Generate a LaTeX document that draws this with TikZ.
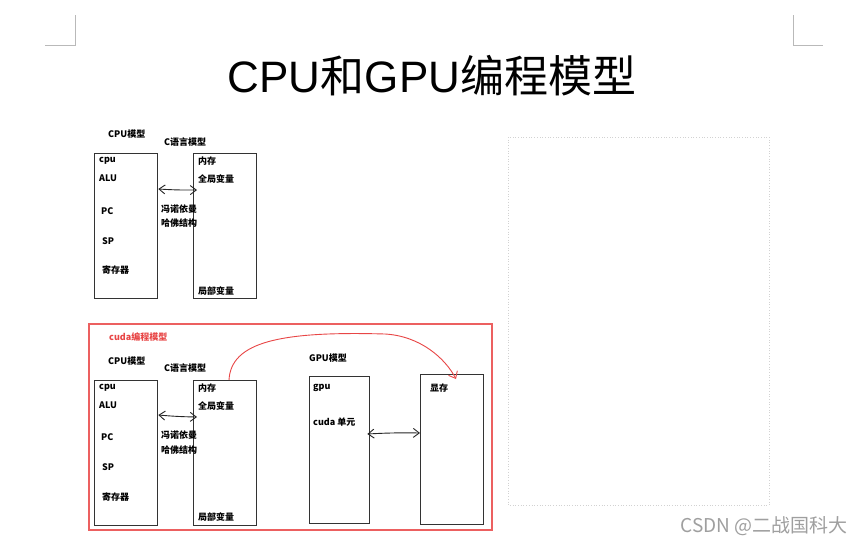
\documentclass[tikz,border=0pt]{standalone}
\usepackage{fontspec}
\setmainfont{Liberation Sans}
\newfontfamily\cjk{Noto Sans CJK SC}
\usetikzlibrary{arrows.meta}
\definecolor{inkred}{RGB}{232,70,70}
\definecolor{boxred}{RGB}{236,96,96}
\begin{document}
\begin{tikzpicture}[x=1pt,y=-1pt,
  box/.style={draw=black!80, line width=1.3pt, minimum width=63pt, minimum height=145pt, anchor=north west, inner sep=0pt},
  lbl/.style={anchor=west, inner sep=0pt, font=\cjk\bfseries\fontsize{9}{10}\selectfont},
  dbl/.style={{Straight Barb[length=6pt,width=9pt]}-{Straight Barb[length=6pt,width=9pt]}, line width=0.9pt, black!85},
  redc/.style={-{Straight Barb[length=6pt,width=10pt]}, line width=0.9pt, inkred},
  cornermark/.style={draw=gray!55, line width=0.7pt},
]
\fill[white] (0,0) rectangle (864,546);
\useasboundingbox (0,0) rectangle (864,546);

% page corner marks
\draw[cornermark] (45,45) -- (75,45) -- (75,15);
\draw[cornermark] (793,15) -- (793,45) -- (823,45);

% title
\node[inner sep=0pt, font=\fontsize{44}{50}\selectfont] (title) at (432,76) {CPU{\cjk 和}GPU{\cjk 编程模型}};

% empty dotted frame on the right
\draw[gray!35, dotted, line width=0.7pt] (508,137) rectangle (769,505);

% ---------- upper part: CPU model and C language model ----------
\node[lbl] (t1cpu) at (108,134) {CPU模型};
\node[lbl] (t1c) at (164,142) {C语言模型};
\node[box] (c1) at (94,153) {};
\node[box] (m1) at (193,153) {};
\node[lbl] (a1) at (99,161) {cpu};
\node[lbl] (a2) at (99,178) {ALU};
\node[lbl] (a3) at (101,211) {PC};
\node[lbl] (a4) at (102,241) {SP};
\node[lbl] (a5) at (102,270) {寄存器};
\node[lbl] (b1) at (198,161) {内存};
\node[lbl] (b2) at (198,179) {全局变量};
\node[lbl] (b3) at (198,291) {局部变量};
\node[lbl] (n1) at (161,209) {冯诺依曼};
\node[lbl] (n2) at (161,223) {哈佛结构};
\draw[dbl] ([yshift=-36pt]c1.north east) to[bend right=2] ([xshift=4pt,yshift=-37pt]m1.north west);

% ---------- lower part: cuda programming model ----------
\draw[boxred, line width=1.4pt] (89,324) rectangle (492,530);
\node[lbl, text=inkred] (t2) at (109,337) {cuda编程模型};
\node[lbl] (t2cpu) at (108,361) {CPU模型};
\node[lbl] (t2c) at (164,368) {C语言模型};
\node[lbl] (t2g) at (309,358) {GPU模型};
\node[box] (c2) at (94,380) {};
\node[box] (m2) at (193,380) {};
\node[box, minimum width=60pt, minimum height=147pt] (g2) at (309,376) {};
\node[box, minimum width=63pt, minimum height=150pt] (v2) at (420,374) {};
\node[lbl] (d1) at (99,388) {cpu};
\node[lbl] (d2) at (99,405) {ALU};
\node[lbl] (d3) at (101,437) {PC};
\node[lbl] (d4) at (102,467) {SP};
\node[lbl] (d5) at (102,497) {寄存器};
\node[lbl] (e1) at (198,388) {内存};
\node[lbl] (e2) at (198,406) {全局变量};
\node[lbl] (e3) at (198,517) {局部变量};
\node[lbl] (k1) at (161,435) {冯诺依曼};
\node[lbl] (k2) at (161,450) {哈佛结构};
\node[lbl] (g1) at (313,388) {gpu};
\node[lbl] (g3) at (313,422) {cuda 单元};
\node[lbl] (v1) at (430,388) {显存};
\draw[dbl] ([yshift=-35pt]c2.north east) to[bend right=2] ([xshift=4pt,yshift=-37pt]m2.north west);
\draw[dbl] ([xshift=-3pt,yshift=-58pt]g2.north east) to[bend left=2] ([yshift=-59pt]v2.north west);

% copy from host memory to device memory
\coordinate (peak) at (385,334);
\draw[redc] ([xshift=36pt]m2.north west) .. controls (231,342) and (280,331) .. (peak)
  .. controls (420,336) and (445,358) .. ([xshift=36pt,yshift=-5pt]v2.north west);

% watermark
\node[anchor=east, inner sep=0pt, text=gray!75, font=\cjk\fontsize{19}{21}\selectfont] (wm) at (848,526) {CSDN @二战国科大};
\end{tikzpicture}
\end{document}
